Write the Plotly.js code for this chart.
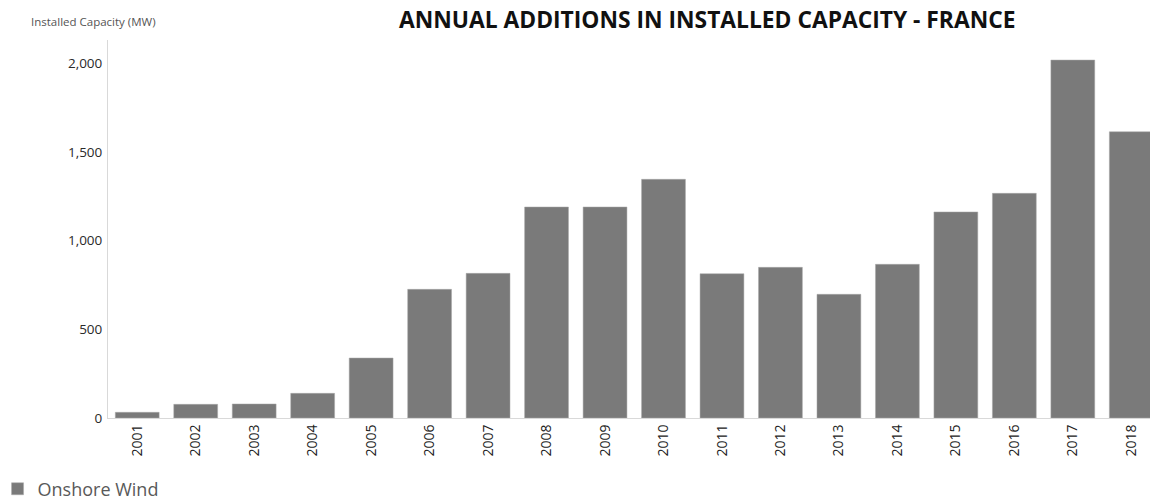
<!DOCTYPE html>
<html>
<head>
<meta charset="utf-8">
<script src="https://cdn.plot.ly/plotly-3.0.1.min.js"></script>
<style>html,body{margin:0;padding:0;background:#fff;}#chart{width:1150px;height:502px;}</style>
</head>
<body>
<div id="chart"></div>
<script>
const years = ["2001","2002","2003","2004","2005","2006","2007","2008","2009","2010","2011","2012","2013","2014","2015","2016","2017","2018"];
const onshoreWind = [32, 77, 79, 139, 338, 725, 815, 1189, 1189, 1345, 813, 849, 697, 866, 1161, 1266, 2017, 1613];
const yTickVals = [0, 500, 1000, 1500, 2000];
const yTickText = ["0", "500", "1,000", "1,500", "2,000"];
const seriesName = "Onshore Wind";
const chartTitle = "ANNUAL ADDITIONS IN INSTALLED CAPACITY - FRANCE";
const yTitle = "Installed Capacity (MW)";

const trace = {
  type: "bar",
  x: years,
  y: onshoreWind,
  name: seriesName,
  marker: {color: "#7a7a7a", line: {color: "#a8a8a8", width: 0.5}},
  hoverinfo: "x+y"
};

const layout = {
  width: 1150, height: 502,
  margin: {l: 108, r: 0, t: 40, b: 84, pad: 0, autoexpand: false},
  paper_bgcolor: "#ffffff", plot_bgcolor: "#ffffff",
  font: {family: "Open Sans, sans-serif", color: "#333333"},
  bargap: 0.25,
  showlegend: true,
  title: {
    text: "<b>" + chartTitle + "</b>",
    font: {family: "Open Sans, sans-serif", size: 22.8, color: "#111111"},
    xref: "container", x: 0.615, xanchor: "center",
    yref: "container", y: 0.96, yanchor: "middle"
  },
  xaxis: {
    type: "category",
    range: [-0.5, 17.32],
    tickangle: -90,
    tickfont: {size: 14, color: "#222222"},
    showgrid: false, zeroline: false,
    showline: true, linecolor: "#d9d9d9", linewidth: 1,
    ticks: "", fixedrange: true
  },
  yaxis: {
    range: [0, 2130],
    tickvals: yTickVals, ticktext: yTickText,
    tickfont: {size: 13.5, color: "#2a2a2a"},
    showgrid: false, zeroline: false,
    showline: true, linecolor: "#d9d9d9", linewidth: 1,
    ticks: "", ticklabelstandoff: 2, fixedrange: true
  },
  legend: {
    xref: "paper", yref: "paper",
    x: -0.106, xanchor: "left", y: -0.188, yanchor: "middle",
    orientation: "h",
    font: {size: 18, color: "#595959"},
    bgcolor: "rgba(0,0,0,0)"
  },
  annotations: [{
    text: yTitle,
    xref: "paper", yref: "paper",
    x: (29 - 108) / (1150 - 108),
    y: (418 - 21) / (418 - 40),
    xanchor: "left", yanchor: "middle",
    showarrow: false,
    font: {size: 11.5, color: "#555555"}
  }]
};

Plotly.newPlot("chart", [trace], layout, {displayModeBar: false, staticPlot: true});
</script>
</body>
</html>
